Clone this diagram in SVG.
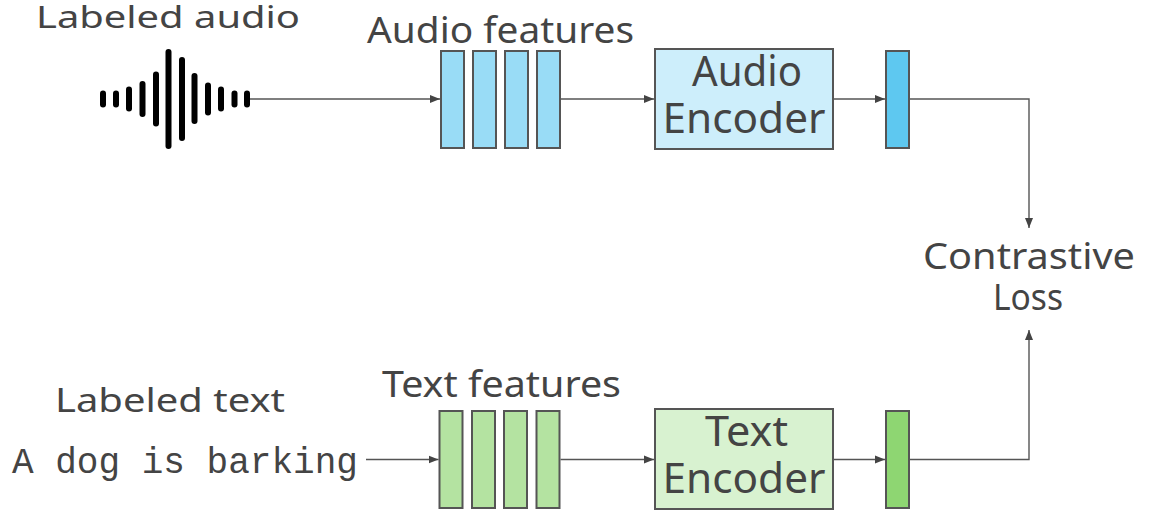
<svg xmlns="http://www.w3.org/2000/svg" width="1154" height="516" viewBox="0 0 1154 516">
  <style>
    .lbl { font-family: "Noto Sans", "DejaVu Sans", sans-serif; fill: #444444; }
    .mono { font-family: "Liberation Mono", "DejaVu Sans Mono", monospace; fill: #444444; }
    .wire { fill: none; stroke: #555555; stroke-width: 1.4; }
    .box { stroke: #555555; stroke-width: 2; }
    .bar { fill: #000000; }
    .af { fill: #99dcf6; }
    .ae { fill: #cdeefb; }
    .ao { fill: #5ec8f0; }
    .tf { fill: #b4e3a1; }
    .te { fill: #d8f2d0; }
    .to { fill: #8ed672; }
  </style>
  <defs>
    <marker id="arrow" viewBox="0 0 10 10" refX="10" refY="5" markerWidth="10" markerHeight="10" markerUnits="userSpaceOnUse" orient="auto">
      <path d="M0,1 L10,5 L0,9 Z" fill="#444444"/>
    </marker>
  </defs>

  <rect width="1154" height="516" fill="#ffffff"/>

  <!-- waveform icon -->
  <g id="waveform">
    <rect class="bar" x="100" y="90.5" width="6" height="17" rx="3"/>
    <rect class="bar" x="113" y="90.5" width="6" height="17" rx="3"/>
    <rect class="bar" x="126" y="86.5" width="6" height="25" rx="3"/>
    <rect class="bar" x="139.5" y="81" width="6" height="36" rx="3"/>
    <rect class="bar" x="153" y="71.5" width="6" height="55" rx="3"/>
    <rect class="bar" x="165.5" y="49" width="6" height="100" rx="3"/>
    <rect class="bar" x="179" y="57" width="6" height="84" rx="3"/>
    <rect class="bar" x="191.5" y="73" width="6" height="51" rx="3"/>
    <rect class="bar" x="205" y="82.5" width="6" height="33" rx="3"/>
    <rect class="bar" x="218" y="86.5" width="6" height="25" rx="3"/>
    <rect class="bar" x="231.5" y="90.5" width="6" height="17" rx="3"/>
    <rect class="bar" x="244" y="90.5" width="6" height="17" rx="3"/>
  </g>

  <!-- labels -->
  <g id="labels">
    <text class="lbl" x="36" y="28" font-size="31" textLength="264" lengthAdjust="spacingAndGlyphs">Labeled audio</text>
    <text class="lbl" x="367" y="43" font-size="36" textLength="267" lengthAdjust="spacingAndGlyphs">Audio features</text>
    <text class="lbl" x="55" y="412" font-size="33" textLength="230" lengthAdjust="spacingAndGlyphs">Labeled text</text>
    <text class="lbl" x="382" y="397" font-size="36" textLength="239" lengthAdjust="spacingAndGlyphs">Text features</text>
    <text class="mono" x="12" y="473" font-size="37" textLength="346" lengthAdjust="spacingAndGlyphs">A dog is barking</text>
  </g>

  <!-- audio branch -->
  <g id="audio-features">
    <rect class="box af" x="441" y="51" width="23" height="97"/>
    <rect class="box af" x="473" y="51" width="23" height="97"/>
    <rect class="box af" x="505" y="51" width="23" height="97"/>
    <rect class="box af" x="537" y="51" width="23" height="97"/>
  </g>
  <g id="audio-encoder">
    <rect class="box ae" x="655" y="49" width="178" height="100"/>
    <text class="lbl" x="747" y="86" font-size="41" text-anchor="middle" textLength="110" lengthAdjust="spacingAndGlyphs">Audio</text>
    <text class="lbl" x="744" y="133" font-size="41" text-anchor="middle" textLength="163" lengthAdjust="spacingAndGlyphs">Encoder</text>
  </g>
  <g id="audio-embedding">
    <rect class="box ao" x="886" y="51" width="23" height="97"/>
  </g>

  <!-- text branch -->
  <g id="text-features">
    <rect class="box tf" x="439.5" y="411" width="23" height="97"/>
    <rect class="box tf" x="472" y="411" width="23" height="97"/>
    <rect class="box tf" x="504" y="411" width="23" height="97"/>
    <rect class="box tf" x="536.5" y="411" width="23" height="97"/>
  </g>
  <g id="text-encoder">
    <rect class="box te" x="655" y="409" width="178" height="100"/>
    <text class="lbl" x="746.5" y="446" font-size="41" text-anchor="middle" textLength="83" lengthAdjust="spacingAndGlyphs">Text</text>
    <text class="lbl" x="744" y="493" font-size="41" text-anchor="middle" textLength="163" lengthAdjust="spacingAndGlyphs">Encoder</text>
  </g>
  <g id="text-embedding">
    <rect class="box to" x="886" y="411" width="23" height="97"/>
  </g>

  <!-- loss -->
  <g id="contrastive-loss">
    <text class="lbl" x="1029" y="269" font-size="36" text-anchor="middle" textLength="212" lengthAdjust="spacingAndGlyphs">Contrastive</text>
    <text class="lbl" x="1028" y="310" font-size="36" text-anchor="middle" textLength="70" lengthAdjust="spacingAndGlyphs">Loss</text>
  </g>

  <!-- connectors -->
  <g id="connectors">
    <path class="wire" d="M250,99 H440" marker-end="url(#arrow)"/>
    <path class="wire" d="M561,99 H654" marker-end="url(#arrow)"/>
    <path class="wire" d="M834,99 H885" marker-end="url(#arrow)"/>
    <path class="wire" d="M910,99 H1029 V228" marker-end="url(#arrow)"/>
    <path class="wire" d="M366,459.5 H438.5" marker-end="url(#arrow)"/>
    <path class="wire" d="M560.5,459.5 H654" marker-end="url(#arrow)"/>
    <path class="wire" d="M834,459.5 H885" marker-end="url(#arrow)"/>
    <path class="wire" d="M910,459.5 H1029 V330" marker-end="url(#arrow)"/>
  </g>
</svg>
